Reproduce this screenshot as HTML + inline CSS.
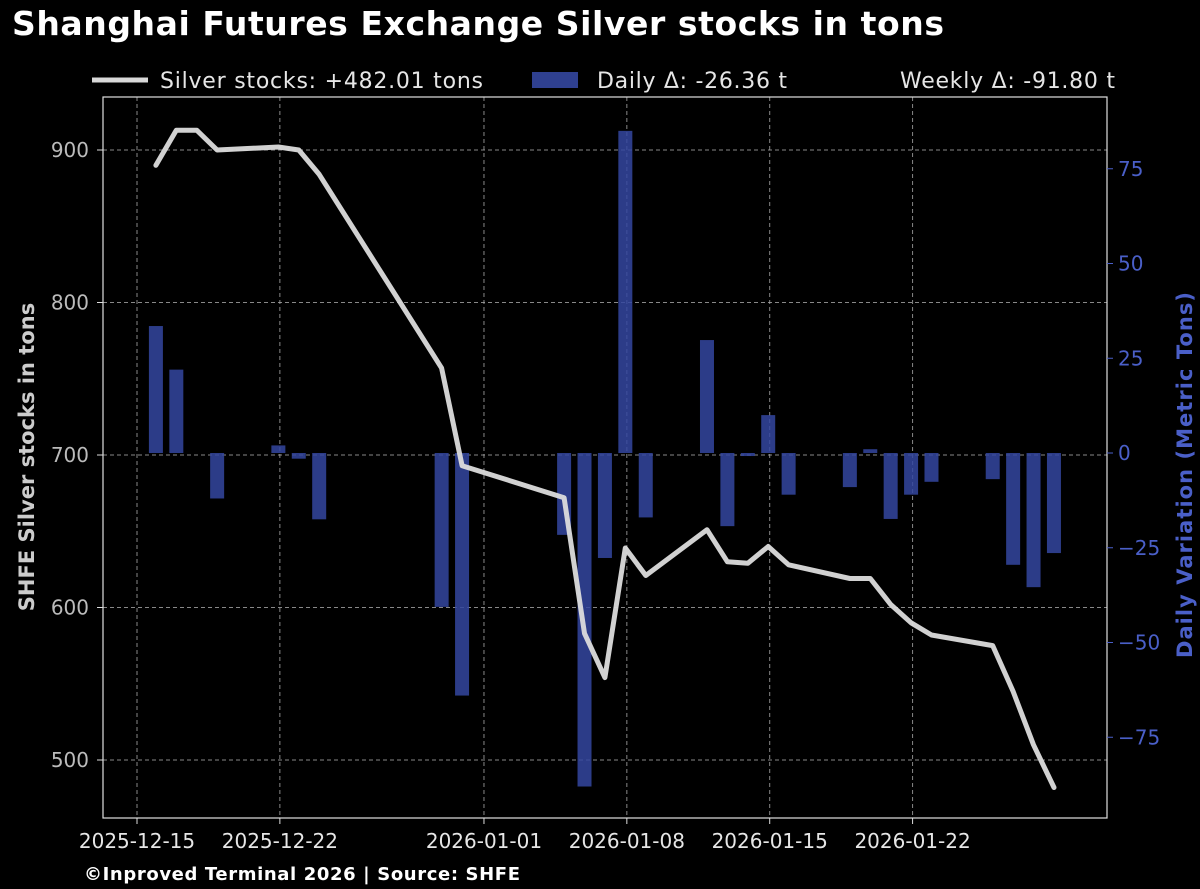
<!DOCTYPE html>
<html><head><meta charset="utf-8"><style>
html,body{margin:0;padding:0;background:#000;}
svg{display:block;font-family:"DejaVu Sans","Liberation Sans",sans-serif;}
</style></head><body>
<svg id="chart" width="1200" height="889" viewBox="0 0 1200 889">
<rect width="1200" height="889" fill="#000"/>
<text x="12" y="35" fill="#fff" font-size="33" font-weight="bold" textLength="932">Shanghai Futures Exchange Silver stocks in tons</text>
<g>
<line x1="92" y1="80" x2="148" y2="80" stroke="#d9d9d9" stroke-width="5"/>
<text x="160" y="88" fill="#e6e6e6" font-size="22" textLength="323">Silver stocks: +482.01 tons</text>
<rect x="532" y="72" width="46" height="16" fill="#3447a0" opacity="0.9"/>
<text x="597" y="88" fill="#e6e6e6" font-size="22" textLength="190">Daily Δ: -26.36 t</text>
<text x="900" y="88" fill="#e6e6e6" font-size="22" textLength="215">Weekly Δ: -91.80 t</text>
</g>
<g id="grid"></g>
<g id="bars"></g>
<g id="line"></g>
<rect x="103" y="97" width="1004" height="721" fill="none" stroke="#e0e0e0" stroke-width="1.2"/>
<g id="axes"></g>
<text transform="translate(34,457) rotate(-90)" fill="#cccccc" font-size="21" font-weight="bold" text-anchor="middle">SHFE Silver stocks in tons</text>
<text transform="translate(1192,475) rotate(-90)" fill="#4a5fc8" font-size="21" font-weight="bold" text-anchor="middle" textLength="366">Daily Variation (Metric Tons)</text>
<text x="84" y="880" fill="#fff" font-size="18" font-weight="bold" textLength="436">©Inproved Terminal 2026 | Source: SHFE</text>
</svg>
<script>
const lineDates=["2025-12-16","2025-12-17","2025-12-18","2025-12-19","2025-12-22","2025-12-23","2025-12-24","2025-12-30","2025-12-31","2026-01-05","2026-01-06","2026-01-07","2026-01-08","2026-01-09","2026-01-12","2026-01-13","2026-01-14","2026-01-15","2026-01-16","2026-01-19","2026-01-20","2026-01-21","2026-01-22","2026-01-23","2026-01-26","2026-01-27","2026-01-28","2026-01-29"];
const stockValues=[890,913,913,900,902,900,884,757,693,672,583,554,639,621,651,630,629,640,628,619,619,602,590,582,575,545,510,482];
const barDates=["2025-12-16","2025-12-17","2025-12-19","2025-12-22","2025-12-23","2025-12-24","2025-12-30","2025-12-31","2026-01-05","2026-01-06","2026-01-07","2026-01-08","2026-01-09","2026-01-12","2026-01-13","2026-01-14","2026-01-15","2026-01-16","2026-01-19","2026-01-20","2026-01-21","2026-01-22","2026-01-23","2026-01-26","2026-01-27","2026-01-28","2026-01-29"];
const dailyValues=[33.5,22,-12,2,-1.5,-17.5,-40.6,-64,-21.6,-88,-27.7,85,-17,29.8,-19.3,-0.8,10,-11,-9,1,-17.4,-11,-7.6,-6.9,-29.5,-35.4,-26.4];
const xTickLabels=["2025-12-15","2025-12-22","2026-01-01","2026-01-08","2026-01-15","2026-01-22"];
const leftTicks=[500,600,700,800,900];
const rightTicks=[-75,-50,-25,0,25,50,75];
const NS="http://www.w3.org/2000/svg";
const D0=Date.UTC(2025,11,15);
function day(s){const p=s.split("-");return (Date.UTC(+p[0],+p[1]-1,+p[2])-D0)/86400000;}
function x(s){return 137+day(s)*20.41;}
function yL(v){return 455-(v-700)*1.525;}
function yR(v){return 453-v*3.79;}
function mk(tag,attrs,parent){const e=document.createElementNS(NS,tag);for(const k in attrs)e.setAttribute(k,attrs[k]);parent.appendChild(e);return e;}
const grid=document.getElementById("grid"),axes=document.getElementById("axes"),bars=document.getElementById("bars"),line=document.getElementById("line");
xTickLabels.forEach(t=>{const X=x(t);
 let g=mk("line",{x1:X,x2:X,y1:97,y2:818,stroke:"#aaa","stroke-width":1,"stroke-dasharray":"4,3",opacity:0.8},grid);
 
 
 let tk=mk("line",{x1:X,x2:X,y1:818,y2:824,stroke:"#ddd"},axes);
 
 
 let tx=mk("text",{x:X,y:848,fill:"#e6e6e6","font-size":20,"text-anchor":"middle"},axes);tx.textContent=t;
 
 
});
leftTicks.forEach(v=>{const Y=yL(v);
 let g=mk("line",{x1:103,x2:1107,y1:Y,y2:Y,stroke:"#aaa","stroke-width":1,"stroke-dasharray":"4,3",opacity:0.8},grid);
 
 
 let tk=mk("line",{x1:97,x2:103,y1:Y,y2:Y,stroke:"#ddd"},axes);
 
 
 let tx=mk("text",{x:89,y:Y+7,fill:"#bbb","font-size":20,"text-anchor":"end"},axes);tx.textContent=v;
 
 
});
rightTicks.forEach(v=>{const Y=yR(v);
 let tk=mk("line",{x1:1107,x2:1113,y1:Y,y2:Y,stroke:"#4a5fc8"},axes);
 
 
 let tx=mk("text",{x:1118,y:Y+7,fill:"#4a5fc8","font-size":20},axes);tx.textContent=(v<0?"\u2212"+(-v):v);
 
 
});
barDates.forEach((d,i)=>{const v=dailyValues[i];const X=x(d)-1.5;const y0=yR(0),y1=yR(v);
 let r=mk("rect",{x:X-7,y:Math.min(y0,y1),width:14,height:Math.max(1,Math.abs(y1-y0)),fill:"#3447a0",opacity:0.85},bars);
 
 
});
const pts=lineDates.map((d,i)=>(x(d)-1.5).toFixed(1)+","+yL(stockValues[i]).toFixed(1)).join(" ");
let pl=mk("polyline",{points:pts,fill:"none",stroke:"#dcdcdc","stroke-width":5,"stroke-linejoin":"round","stroke-linecap":"round",opacity:0.95},line);


</script>
</body></html>
